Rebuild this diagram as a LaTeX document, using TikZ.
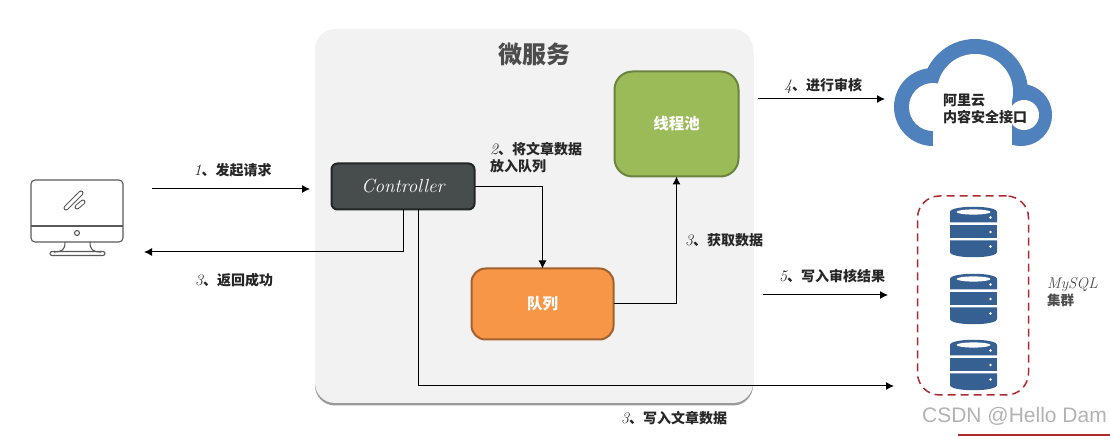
\documentclass[tikz,border=0pt]{standalone}
\usepackage{fontspec}
\usepackage{xcolor}
\usetikzlibrary{arrows.meta,positioning,shadows}
\newfontfamily\cjk{Noto Sans CJK SC}
\newfontfamily\wmark{Liberation Sans}
\newcommand{\stepno}[2]{{\itshape\fontsize{16}{17}\selectfont #1}{\cjk\bfseries 、#2}}
\definecolor{panelgray}{HTML}{F2F2F2}
\definecolor{ctrlgray}{HTML}{474C4C}
\definecolor{poolgreen}{HTML}{9BBB59}
\definecolor{queueorange}{HTML}{F79646}
\definecolor{cloudblue}{HTML}{4F81BD}
\definecolor{dbblue}{HTML}{366092}
\definecolor{dashred}{HTML}{AE2A2F}
\definecolor{icongray}{HTML}{595959}
\tikzset{
steplabel/.style={
    font=\fontsize{14}{17}\selectfont, text=black!85,
    inner sep=0pt, align=left
  },
flowbox/.style={
    rectangle, rounded corners=#1, line width=2pt,
    inner sep=0pt, outer sep=0pt, text=white,
    font=\cjk\bfseries\fontsize{15.5}{18}\selectfont
  },
dbstack/.pic={
    \fill[dbblue] (-23.5,20) .. controls (-23.5,27) and (23.5,27) .. (23.5,20)
        -- (23.5,9.5) -- (-23.5,9.5) -- cycle;
    \fill[dbblue] (-23.5,7) rectangle (23.5,-6.5);
    \fill[dbblue] (-23.5,-8.5) -- (23.5,-8.5) -- (23.5,-20)
        .. controls (23.5,-27) and (-23.5,-27) .. (-23.5,-20) -- cycle;
    \fill[white] (0,20) ellipse [x radius=17pt, y radius=2.6pt];
    \foreach \dy in {14.5,0,-14.5}
        \fill[white] (17,\dy) circle [radius=1.3pt];
  }
}
\begin{document}
\begin{tikzpicture}[
 x=1pt, y=1pt,
 >={Latex[length=8pt,width=8pt]},
 flowline/.style={->, line width=1pt, black}
  ]
\useasboundingbox (0,0) rectangle (1110,436);

% panel
\node[rectangle, rounded corners=20pt, fill=panelgray, minimum width=438pt, minimum height=374pt,
    inner sep=0pt, drop shadow={shadow xshift=0pt, shadow yshift=-2.5pt, opacity=.4, fill=black}]
    (panel) at (534,220) {};
\node[font=\cjk\bfseries\fontsize{24}{26}\selectfont, text=black!70, inner sep=0pt] (paneltitle) at (534,382) {微服务};

% boxes
\node[flowbox=6pt, fill=ctrlgray, draw=black!50!ctrlgray, minimum width=143pt, minimum height=46pt,
    font=\itshape\fontsize{19}{20}\selectfont] (ctrl) at (403,249.5) {\raisebox{1.5pt}{Controller}};
\node[flowbox=18pt, fill=poolgreen, draw=poolgreen!70!black, minimum width=124pt, minimum height=105pt] (pool) at (676.5,312) {线程池};
\node[flowbox=14pt, fill=queueorange, draw=queueorange!65!black, minimum width=142pt, minimum height=71pt] (queue) at (542.5,132) {队列};

% computer
\begin{scope}[icongray, line width=1.1pt]
\draw[rounded corners=4pt] (31,194) rectangle (123,256);
\draw (31,210) -- (123,210);
\draw (77,203) circle [radius=2.5pt];
\draw (65,194) .. controls (65,186) and (62,184) .. (54,184);
\draw (90,194) .. controls (90,186) and (93,184) .. (101,184);
\draw[rounded corners=2pt] (50,180.5) rectangle (105,184.5);
\draw[line width=5pt, line cap=round] (66,228) -- (81,243);
\draw[line width=3pt, line cap=round, white] (66,228) -- (81,243);
\draw[line width=5pt, line cap=round] (77,229) -- (83,234);
\draw[line width=3pt, line cap=round, white] (77,229) -- (83,234);
\end{scope}

% cloud
\foreach \cx/\cy/\cr in {933/329/39, 975/344/53, 1021/321/31}
    \fill[cloudblue] (\cx,\cy) circle [radius=\cr pt];
\foreach \cx/\cy/\cr in {933/329/24, 975/344/38, 1024/321/15}
    \fill[white] (\cx,\cy) circle [radius=\cr pt];
\fill[white] (933,285) rectangle (1012,340);
\node[steplabel, font=\cjk\bfseries\fontsize{14}{17}\selectfont, anchor=west] (cloudtext) at (943,327.5) {阿里云\\内容安全接口};

% mysql cluster
\node[rectangle, rounded corners=22pt, draw=dashred, dashed, dash pattern=on 8pt off 5pt, line width=1.5pt,
    minimum width=111pt, minimum height=199pt, inner sep=0pt] (cluster) at (973,140.5) {};
\foreach \dby in {204,137,71}
    \pic at (973.5,\dby) {dbstack};
\node[steplabel, anchor=west, text=black!70] (mysqltext) at (1047,143.5)
    {{\itshape\fontsize{15.5}{17}\selectfont MySQL}\\{\cjk\bfseries\fontsize{13.5}{17}\selectfont 集群}};

% free ends
\coordinate (userout) at (152,247);
\coordinate (userback) at (144,184);
\coordinate (ctrlin) at (310,247);
\coordinate (auditfrom) at (758,337);
\coordinate (auditto) at (885,337);
\coordinate (resultfrom) at (763,141);
\coordinate (resultto) at (888,141);
\coordinate (dbin) at (894,50);

% connectors
\draw[flowline] (userout) -- (ctrlin);
\draw[flowline] (ctrl.south) |- (userback);
\draw[flowline] (ctrl.east) -| (queue.north);
\draw[flowline] (queue.east) -| (pool.south);
\draw[flowline] ([xshift=15pt]ctrl.south) |- (dbin);
\draw[flowline] (auditfrom) -- (auditto);
\draw[flowline] (resultfrom) -- (resultto);

% labels
\node[steplabel] (lblreq) at (232.5,266) {\stepno{1}{发起请求}};
\node[steplabel] (lblback) at (234,156) {\stepno{3}{返回成功}};
\node[steplabel, anchor=west] (lblqueue) at (490,278) {\stepno{2}{将文章数据}\\{\cjk\bfseries 放入队列}};
\node[steplabel, anchor=west] (lblfetch) at (685,196) {\stepno{3}{获取数据}};
\node[steplabel] (lblwrite) at (674,18) {\stepno{3}{写入文章数据}};
\node[steplabel] (lblaudit) at (823,350) {\stepno{4}{进行审核}};
\node[steplabel] (lblresult) at (832,160) {\stepno{5}{写入审核结果}};

% watermark
\node[font=\wmark\fontsize{21}{24}\selectfont, text=black!30, inner sep=0pt, anchor=east] (wmarktext) at (1107,20) {CSDN @Hello Dam};
\fill[dashred] (958,0) rectangle (1110,2);
\end{tikzpicture}
\end{document}
